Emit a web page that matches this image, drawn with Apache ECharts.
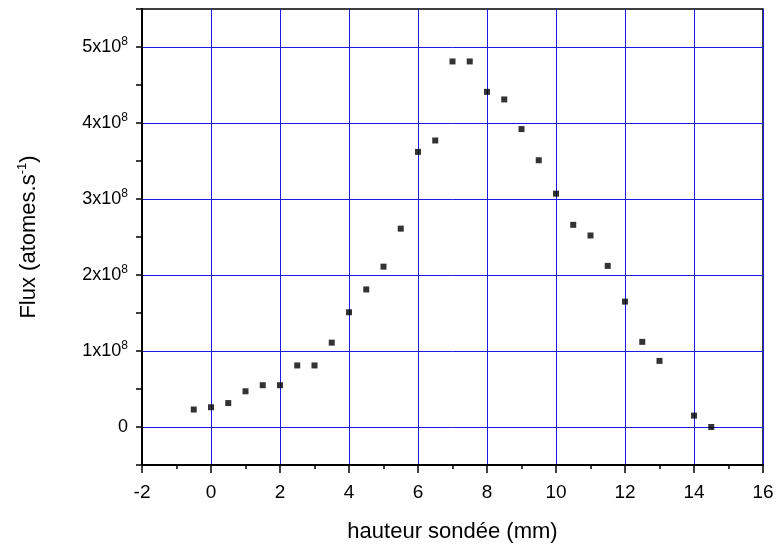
<html lang="fr">
<head>
<meta charset="UTF-8">
<title>Flux vs hauteur sondée</title>
<script src="https://cdn.jsdelivr.net/npm/echarts@6/dist/echarts.min.js"></script>
<style>
    html, body { margin: 0; padding: 0; background: #fff; }
    #container { width: 777px; height: 556px; }
</style>
</head>
<body>
<div id="container"></div>
<script>
    // données
    var hauteur = [-0.5, 0, 0.5, 1, 1.5, 2, 2.5, 3, 3.5, 4, 4.5, 5, 5.5, 6, 6.5, 7, 7.5,
                   8, 8.5, 9, 9.5, 10, 10.5, 11, 11.5, 12, 12.5, 13, 14, 14.5];
    var flux = [0.23e8, 0.26e8, 0.315e8, 0.47e8, 0.55e8, 0.55e8, 0.81e8, 0.81e8, 1.11e8, 1.51e8,
                1.81e8, 2.11e8, 2.61e8, 3.62e8, 3.77e8, 4.81e8, 4.81e8,
                4.41e8, 4.31e8, 3.92e8, 3.51e8, 3.07e8, 2.66e8, 2.52e8, 2.12e8, 1.65e8,
                1.12e8, 0.87e8, 0.15e8, 0];

    var points = hauteur.map(function (h, i) { return [h, flux[i]]; });

    var chart = echarts.init(document.getElementById('container'));
    var font = 'Liberation Sans, Arial, sans-serif';
    var bleu = '#1a1ae8';

    var option = {
        animation: false,
        textStyle: { fontFamily: font },
        // largeur 621 = 9 x 69 px, hauteur 456 = 12 x 38 px : lignes nettes
        grid: {
            left: 142, right: 14, top: 9, bottom: 91,
            show: true, borderColor: '#000', borderWidth: 1.5,
            backgroundColor: 'transparent'
        },
        xAxis: {
            type: 'value',
            min: -2, max: 16, interval: 2,
            name: 'hauteur sondée (mm)',
            nameLocation: 'middle',
            nameGap: 56,
            nameTextStyle: { fontSize: 22, color: '#000', fontFamily: font },
            axisLine: { onZero: false, lineStyle: { color: '#000', width: 2 } },
            axisTick: { inside: false, length: 8, lineStyle: { color: '#000', width: 1.5 } },
            minorTick: { show: true, splitNumber: 2, length: 4, lineStyle: { color: '#000', width: 1.5 } },
            axisLabel: { fontSize: 19, color: '#000', margin: 18, fontFamily: font },
            splitLine: { show: true, lineStyle: { color: bleu, width: 1 } }
        },
        yAxis: {
            type: 'value',
            min: -0.5e8, max: 5.5e8, interval: 0.5e8,
            name: '{a|Flux (atomes.s}{s|-1}{a|)}',
            nameLocation: 'middle',
            nameGap: 100,
            nameTextStyle: {
                color: '#000',
                rich: {
                    a: { fontSize: 22, lineHeight: 26, color: '#000', fontFamily: font },
                    s: { fontSize: 13, lineHeight: 14, verticalAlign: 'top', color: '#000', fontFamily: font }
                }
            },
            axisLine: { onZero: false, lineStyle: { color: '#000', width: 2 } },
            axisTick: { inside: false, length: 6, lineStyle: { color: '#000', width: 1.5 } },
            axisLabel: {
                margin: 14,
                color: '#000',
                formatter: function (v) {
                    if (Math.round(v / 1e8) * 1e8 !== v) return '';
                    if (v === 0) return '{a|0}';
                    return '{a|' + (v / 1e8) + 'x10}{s|8}';
                },
                rich: {
                    a: { fontSize: 18, lineHeight: 22, color: '#000', fontFamily: font },
                    s: { fontSize: 12, lineHeight: 12, verticalAlign: 'top', color: '#000', fontFamily: font }
                }
            },
            // une ligne sur deux : seulement aux multiples de 1x10^8
            splitLine: { show: true, lineStyle: { color: ['rgba(0,0,0,0)', bleu], width: 1 } }
        },
        series: [
            {
                type: 'scatter',
                data: points,
                symbol: 'rect',
                symbolSize: 6,
                itemStyle: { color: '#000' },
                z: 5
            }
        ]
    };

    chart.setOption(option);
</script>
</body>
</html>
